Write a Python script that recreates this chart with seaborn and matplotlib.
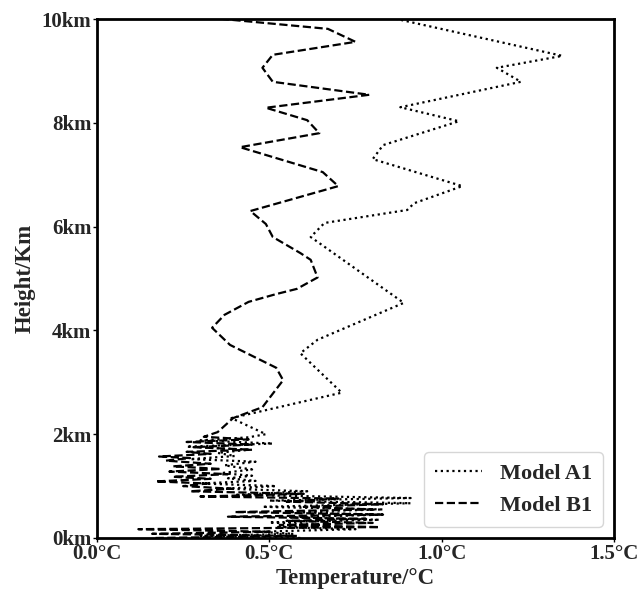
import numpy as np
import pandas as pd
import matplotlib
matplotlib.use("Agg")
import matplotlib.pyplot as plt
import seaborn as sns

# Model A1 (dotted): height (km) and temperature (deg C)
a1_height = [0.00, 0.04, 0.08, 0.12, 0.17, 0.21, 0.25, 0.30, 0.35, 0.40, 0.45, 0.50,
             0.55, 0.60, 0.67, 0.72, 0.77, 0.83, 0.90, 0.95, 1.00, 1.05, 1.10, 1.15,
             1.20, 1.25, 1.32, 1.40, 1.47, 1.52, 1.58, 1.64, 1.70, 1.76, 1.82, 1.88,
             1.94, 2.00, 2.31, 2.80, 3.56, 3.82, 4.53, 5.80, 6.07, 6.32, 6.45, 6.78,
             7.30, 7.57, 8.03, 8.30, 8.79, 9.06, 9.29, 10.00]
a1_temp = [0.59, 0.30, 0.57, 0.47, 0.75, 0.52, 0.66, 0.50, 0.82, 0.56, 0.83, 0.55,
           0.83, 0.48, 0.91, 0.50, 0.91, 0.40, 0.61, 0.37, 0.52, 0.30, 0.46, 0.38,
           0.45, 0.36, 0.45, 0.37, 0.46, 0.27, 0.40, 0.35, 0.44, 0.26, 0.51, 0.30,
           0.44, 0.49, 0.39, 0.71, 0.59, 0.64, 0.89, 0.62, 0.66, 0.90, 0.92, 1.06,
           0.80, 0.83, 1.05, 0.88, 1.23, 1.16, 1.35, 0.87]

# Model B1 (dashed)
b1_height = [0.00, 0.04, 0.08, 0.12, 0.17, 0.21, 0.25, 0.29, 0.33, 0.37, 0.41, 0.45,
             0.50, 0.55, 0.60, 0.65, 0.70, 0.76, 0.80, 0.85, 0.90, 0.95, 1.00, 1.05,
             1.09, 1.14, 1.18, 1.23, 1.28, 1.33, 1.38, 1.43, 1.49, 1.54, 1.57, 1.62,
             1.66, 1.70, 1.75, 1.80, 1.85, 1.90, 1.95, 2.04, 2.31, 2.52, 3.04, 3.28,
             3.72, 4.05, 4.30, 4.55, 4.70, 4.80, 5.02, 5.36, 5.49, 5.80, 6.05, 6.30,
             6.78, 7.05, 7.53, 7.80, 8.05, 8.29, 8.54, 8.79, 9.06, 9.31, 9.56, 9.81,
             10.00]
b1_temp = [0.17, 0.58, 0.16, 0.50, 0.12, 0.82, 0.53, 0.80, 0.55, 0.78, 0.38, 0.83,
           0.40, 0.80, 0.60, 0.83, 0.55, 0.70, 0.30, 0.60, 0.27, 0.39, 0.25, 0.32,
           0.17, 0.33, 0.22, 0.38, 0.21, 0.36, 0.22, 0.33, 0.20, 0.27, 0.18, 0.33,
           0.26, 0.45, 0.28, 0.45, 0.26, 0.44, 0.31, 0.35, 0.395, 0.48, 0.54, 0.52,
           0.386, 0.334, 0.37, 0.44, 0.52, 0.58, 0.64, 0.62, 0.59, 0.51, 0.49, 0.445,
           0.70, 0.655, 0.415, 0.645, 0.61, 0.49, 0.79, 0.51, 0.48, 0.51, 0.75, 0.67,
           0.365]

x_ticks = [0.0, 0.5, 1.0, 1.5]
x_tick_labels = ["0.0°C", "0.5°C", "1.0°C", "1.5°C"]
y_ticks = [0, 2, 4, 6, 8, 10]
y_tick_labels = ["0km", "2km", "4km", "6km", "8km", "10km"]

df = pd.concat([
    pd.DataFrame({"Height": a1_height, "Temperature": a1_temp, "Model": "Model A1"}),
    pd.DataFrame({"Height": b1_height, "Temperature": b1_temp, "Model": "Model B1"}),
], ignore_index=True)

sns.set_theme(style="white")
plt.rcParams["font.family"] = ["Liberation Serif", "DejaVu Serif"]
plt.rcParams["font.weight"] = "bold"

fig = plt.figure(figsize=(6.44, 5.94), dpi=100)
ax = fig.add_axes([0.1506, 0.0943, 0.8028, 0.8737])

sns.lineplot(data=df, x="Temperature", y="Height", style="Model",
             sort=False, estimator=None, color="black", linewidth=1.6,
             dashes={"Model A1": (1, 1.6), "Model B1": (3.7, 1.6)}, ax=ax)

ax.set_xlim(0, 1.5)
ax.set_ylim(0, 10)
ax.set_xticks(x_ticks)
ax.set_xticklabels(x_tick_labels, fontsize=15, fontweight="bold")
ax.set_yticks(y_ticks)
ax.set_yticklabels(y_tick_labels, fontsize=15, fontweight="bold")
ax.set_xlabel("Temperature/°C", fontsize=16.5, fontweight="bold", labelpad=3)
ax.set_ylabel("Height/Km", fontsize=16.5, fontweight="bold", labelpad=4)
ax.tick_params(axis="both", direction="out", length=3, width=1, color="black", pad=1,
               left=True, bottom=True)
for s in ax.spines.values():
    s.set_color("black")
    s.set_linewidth(2.0)

leg = ax.legend(loc="lower right", frameon=True, fancybox=True,
                handlelength=2.1, borderpad=0.5, labelspacing=0.5,
                prop={"weight": "bold", "size": 16})
leg.get_frame().set_edgecolor("#cccccc")
leg.get_frame().set_linewidth(1.0)
for h in leg.get_lines():
    h.set_linewidth(1.6)

fig.savefig("out.png", dpi=100)
